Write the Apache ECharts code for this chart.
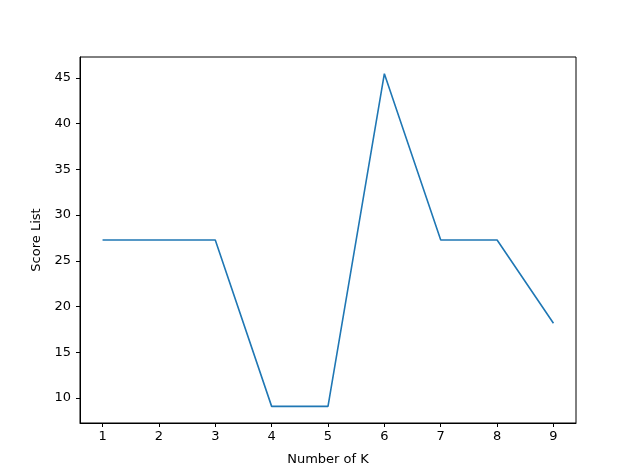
<!DOCTYPE html>
<html>
<head>
<meta charset="utf-8">
<script src="https://cdn.jsdelivr.net/npm/echarts@6/dist/echarts.min.js"></script>
<style>html,body{margin:0;padding:0;background:#fff;}#c{width:640px;height:476px;}</style>
</head>
<body>
<div id="c"></div>
<script>
const kValues = [1, 2, 3, 4, 5, 6, 7, 8, 9];
const scores = [27.27, 27.27, 27.27, 9.09, 9.09, 45.45, 27.27, 27.27, 18.18];
const xTicks = [1, 2, 3, 4, 5, 6, 7, 8, 9];
const yTicks = [10, 15, 20, 25, 30, 35, 40, 45];

const chart = echarts.init(document.getElementById('c'), null, {renderer: 'canvas'});
const font = 'DejaVu Sans';
chart.setOption({
  animation: false,
  backgroundColor: '#fff',
  grid: {left: 80, right: 64, top: 57, bottom: 53, show: true, borderColor: '#000', borderWidth: 1, backgroundColor: 'transparent'},
  xAxis: {
    type: 'value', min: 0.6, max: 9.4,
    name: 'Number of K', nameLocation: 'middle', nameGap: 30,
    nameTextStyle: {fontFamily: font, fontSize: 13, color: '#000'},
    axisLine: {show: true, onZero: false, lineStyle: {color: '#000', width: 1}},
    axisTick: {show: true, length: 4, lineStyle: {color: '#000'}, customValues: xTicks},
    axisLabel: {fontFamily: font, fontSize: 13, color: '#000', margin: 7, customValues: xTicks},
    splitLine: {show: false}
  },
  yAxis: {
    type: 'value', min: 7.2725, max: 47.2725,
    name: 'Score List', nameLocation: 'middle', nameGap: 35,
    nameTextStyle: {fontFamily: font, fontSize: 13, color: '#000'},
    axisLine: {show: true, onZero: false, lineStyle: {color: '#000', width: 1}},
    axisTick: {show: true, length: 4, lineStyle: {color: '#000'}, customValues: yTicks},
    axisLabel: {fontFamily: font, fontSize: 13, color: '#000', margin: 9, customValues: yTicks},
    splitLine: {show: false}
  },
  series: [{
    type: 'line',
    data: kValues.map((k, i) => [k, scores[i]]),
    showSymbol: false,
    symbol: 'none',
    lineStyle: {color: '#1f77b4', width: 1.6},
    itemStyle: {color: '#1f77b4'}
  }]
});
</script>
</body>
</html>
